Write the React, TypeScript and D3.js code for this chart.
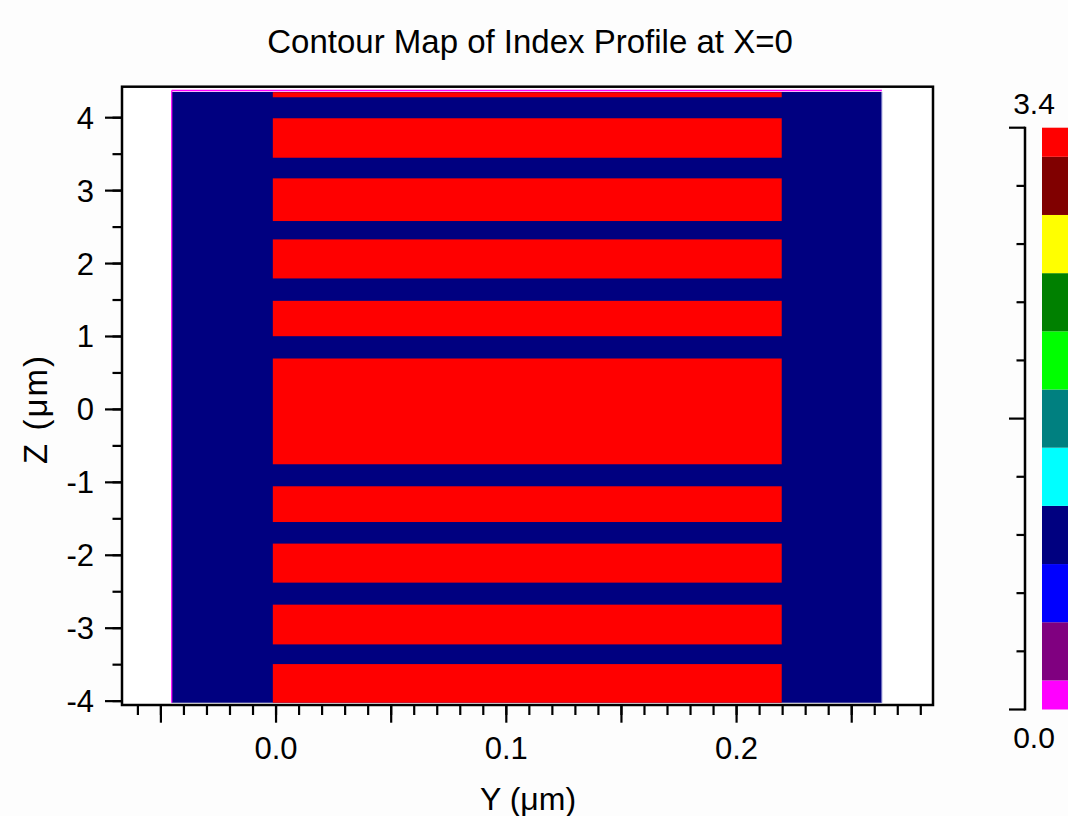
import React from "react";
import * as d3 from "d3";

// ---- data ----
const claddingY = [-0.0453, 0.2631]; // Y extent (µm) of the low-index block
const claddingZ = [-4.022, 4.353]; // Z extent (µm)
const claddingIndex = 1.0;
const coreY = [-0.0014, 0.2196]; // Y extent of the high-index stripes
const stripeTop = [4.349, 3.992, 3.168, 2.331, 1.489, 0.698, -1.054, -1.84, -2.677, -3.492];
const stripeBottom = [4.28, 3.451, 2.583, 1.796, 1.004, -0.752, -1.544, -2.375, -3.222, -4.022];
const coreIndex = 3.4;

const levelValues = [0.0, 0.34, 0.68, 1.02, 1.36, 1.7, 2.04, 2.38, 2.72, 3.06, 3.4];
const levelColors = [
  "#ff00ff", "#800080", "#0000ff", "#000080", "#00ffff", "#008080",
  "#00ff00", "#008000", "#ffff00", "#800000", "#ff0000",
];
const xMajorTicks = [-0.05, 0.0, 0.05, 0.1, 0.15, 0.2, 0.25];
const xLabelTicks = [0.0, 0.1, 0.2];
const yMajorTicks = [-4, -3, -2, -1, 0, 1, 2, 3, 4];
const cbLongTicks = [0.0, 1.7, 3.4];

const W = 1068;
const H = 816;
const FONT = "'Liberation Sans', Arial, Helvetica, sans-serif";

export default function App() {
  const x = d3.scaleLinear().domain([-0.0669, 0.2853]).range([122, 933]);
  const y = d3.scaleLinear().domain([-4.053, 4.425]).range([705, 86.7]);
  const cb = d3.scaleLinear().domain([0, 3.4]).range([709.5, 127.7]);
  const half = (levelValues[1] - levelValues[0]) / 2;
  const colorOf = d3
    .scaleThreshold<number, string>()
    .domain(levelValues.slice(1).map((v) => v - half))
    .range(levelColors);

  const xMinor = d3.range(-6, 29).map((i) => i / 100);
  const yMinor = d3.range(-8, 9).map((i) => i / 2);
  const tickStroke = { stroke: "#000", strokeWidth: 2.2 };

  return (
    <svg
      width={W}
      height={H}
      style={{ position: "absolute", left: 0, top: 0, background: "#fff" }}
      fontFamily={FONT}
    >
      <rect x={0} y={0} width={W} height={H} fill="#fdfdfd" />
      {/* title */}
      <text x={530} y={53} textAnchor="middle" fontSize={33} fill="#000">
        Contour Map of Index Profile at X=0
      </text>

      {/* plot area */}
      <rect x={122} y={86.7} width={933 - 122} height={705 - 86.7} fill="#fff" />
      {/* cladding */}
      <rect
        x={x(claddingY[0])}
        y={y(claddingZ[1])}
        width={x(claddingY[1]) - x(claddingY[0])}
        height={y(claddingZ[0]) - y(claddingZ[1])}
        fill={colorOf(claddingIndex)}
      />
      <line x1={x(claddingY[0])} x2={x(claddingY[1])} y1={y(claddingZ[1]) - 1.5} y2={y(claddingZ[1]) - 1.5} stroke="#ff00ff" strokeWidth={1.5} />
      <line x1={x(claddingY[0])} x2={x(claddingY[0])} y1={y(claddingZ[1]) - 1.5} y2={y(claddingZ[0])} stroke="#ff00ff" strokeWidth={1.2} />
      <line x1={x(claddingY[1])} x2={x(claddingY[1])} y1={y(claddingZ[1])} y2={y(claddingZ[0])} stroke="#9a9ad8" strokeWidth={1} />
      {/* core stripes */}
      {stripeTop.map((t, i) => (
        <rect
          key={i}
          x={x(coreY[0])}
          y={y(t)}
          width={x(coreY[1]) - x(coreY[0])}
          height={y(stripeBottom[i]) - y(t)}
          fill={colorOf(coreIndex)}
        />
      ))}

      {/* frame */}
      <rect x={122} y={86.7} width={933 - 122} height={705 - 86.7} fill="none" stroke="#000" strokeWidth={2.5} />

      {/* y axis ticks */}
      {yMinor.map((v) => (
        <line key={"ym" + v} x1={112.5} x2={122} y1={y(v)} y2={y(v)} {...tickStroke} />
      ))}
      {yMajorTicks.map((v) => (
        <g key={"yM" + v}>
          <line x1={105} x2={122} y1={y(v)} y2={y(v)} {...tickStroke} />
          <text x={94} y={y(v) + 11} textAnchor="end" fontSize={31} fill="#000">
            {String(v)}
          </text>
        </g>
      ))}

      {/* x axis ticks */}
      {xMinor.map((v) => (
        <line key={"xm" + v} x1={x(v)} x2={x(v)} y1={705} y2={715} {...tickStroke} />
      ))}
      {xMajorTicks.map((v) => (
        <line key={"xM" + v} x1={x(v)} x2={x(v)} y1={705} y2={722.7} {...tickStroke} />
      ))}
      {xLabelTicks.map((v) => (
        <text key={"xl" + v} x={x(v)} y={759} textAnchor="middle" fontSize={31} fill="#000">
          {d3.format(".1f")(v)}
        </text>
      ))}

      {/* axis titles */}
      <text x={528} y={810} textAnchor="middle" fontSize={32} fill="#000">
        Y (μm)
      </text>
      <text
        transform={`translate(47,410) rotate(-90)`}
        textAnchor="middle"
        fontSize={33}
        textLength={108}
        lengthAdjust="spacing"
        fill="#000"
      >
        Z (μm)
      </text>

      {/* colour bar */}
      {levelValues.map((v, i) => {
        const lo = Math.max(0, v - half);
        const hi = Math.min(3.4, v + half);
        return (
          <rect
            key={"cb" + i}
            x={1042}
            y={cb(hi)}
            width={40}
            height={cb(lo) - cb(hi)}
            fill={levelColors[i]}
          />
        );
      })}
      <line x1={1025} x2={1025} y1={cb(3.4) - 1} y2={cb(0) + 1} stroke="#000" strokeWidth={2.5} />
      {levelValues.map((v) => (
        <line
          key={"cbt" + v}
          x1={cbLongTicks.includes(v) ? 1009 : 1016.5}
          x2={1025}
          y1={cb(v)}
          y2={cb(v)}
          {...tickStroke}
        />
      ))}
      <text x={1034} y={114} textAnchor="middle" fontSize={30} fill="#000">
        {d3.format(".1f")(levelValues[levelValues.length - 1])}
      </text>
      <text x={1034} y={748} textAnchor="middle" fontSize={30} fill="#000">
        {d3.format(".1f")(levelValues[0])}
      </text>
    </svg>
  );
}
